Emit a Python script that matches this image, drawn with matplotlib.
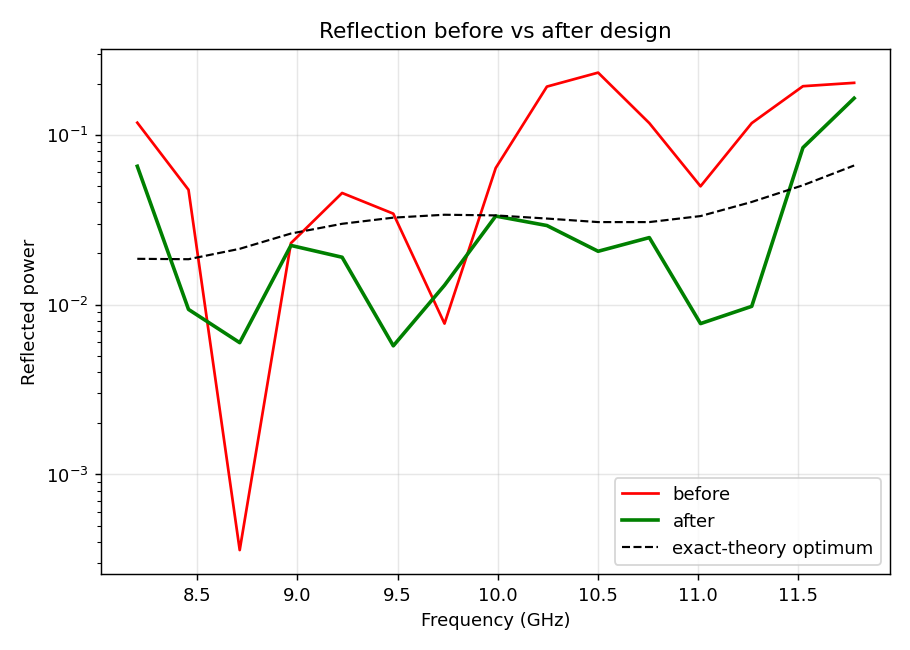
import numpy as np
import matplotlib
matplotlib.use("Agg")
import matplotlib.pyplot as plt

freq_ghz = np.linspace(8.2, 11.78, 15)
before = [0.1177, 0.0474, 0.000359, 0.0230, 0.0454, 0.0343, 0.00773, 0.0637,
          0.192, 0.232, 0.117, 0.0497, 0.117, 0.193, 0.202]
after = [0.0652, 0.00937, 0.00597, 0.0223, 0.0190, 0.00572, 0.0130, 0.0332,
         0.0292, 0.0206, 0.0248, 0.00773, 0.00977, 0.0839, 0.164]
theory = [0.0186, 0.0185, 0.0213, 0.0262, 0.0299, 0.0325, 0.0338, 0.0335,
          0.0321, 0.0306, 0.0306, 0.0332, 0.0402, 0.0504, 0.0659]

fig, ax = plt.subplots(figsize=(7, 5), dpi=130)
fig.subplots_adjust(left=0.1115, right=0.978, top=0.925, bottom=0.117)
ax.semilogy(freq_ghz, before, color="red", lw=1.5, label="before")
ax.semilogy(freq_ghz, after, color="green", lw=2.0, label="after")
ax.semilogy(freq_ghz, theory, color="black", lw=1.2, ls="--", label="exact-theory optimum")
ax.grid(True, which="major", alpha=0.3)
ax.set_xlabel("Frequency (GHz)")
ax.set_ylabel("Reflected power")
ax.set_title("Reflection before vs after design")
ax.legend(loc="lower right")
fig.savefig("out.png", dpi=130)
